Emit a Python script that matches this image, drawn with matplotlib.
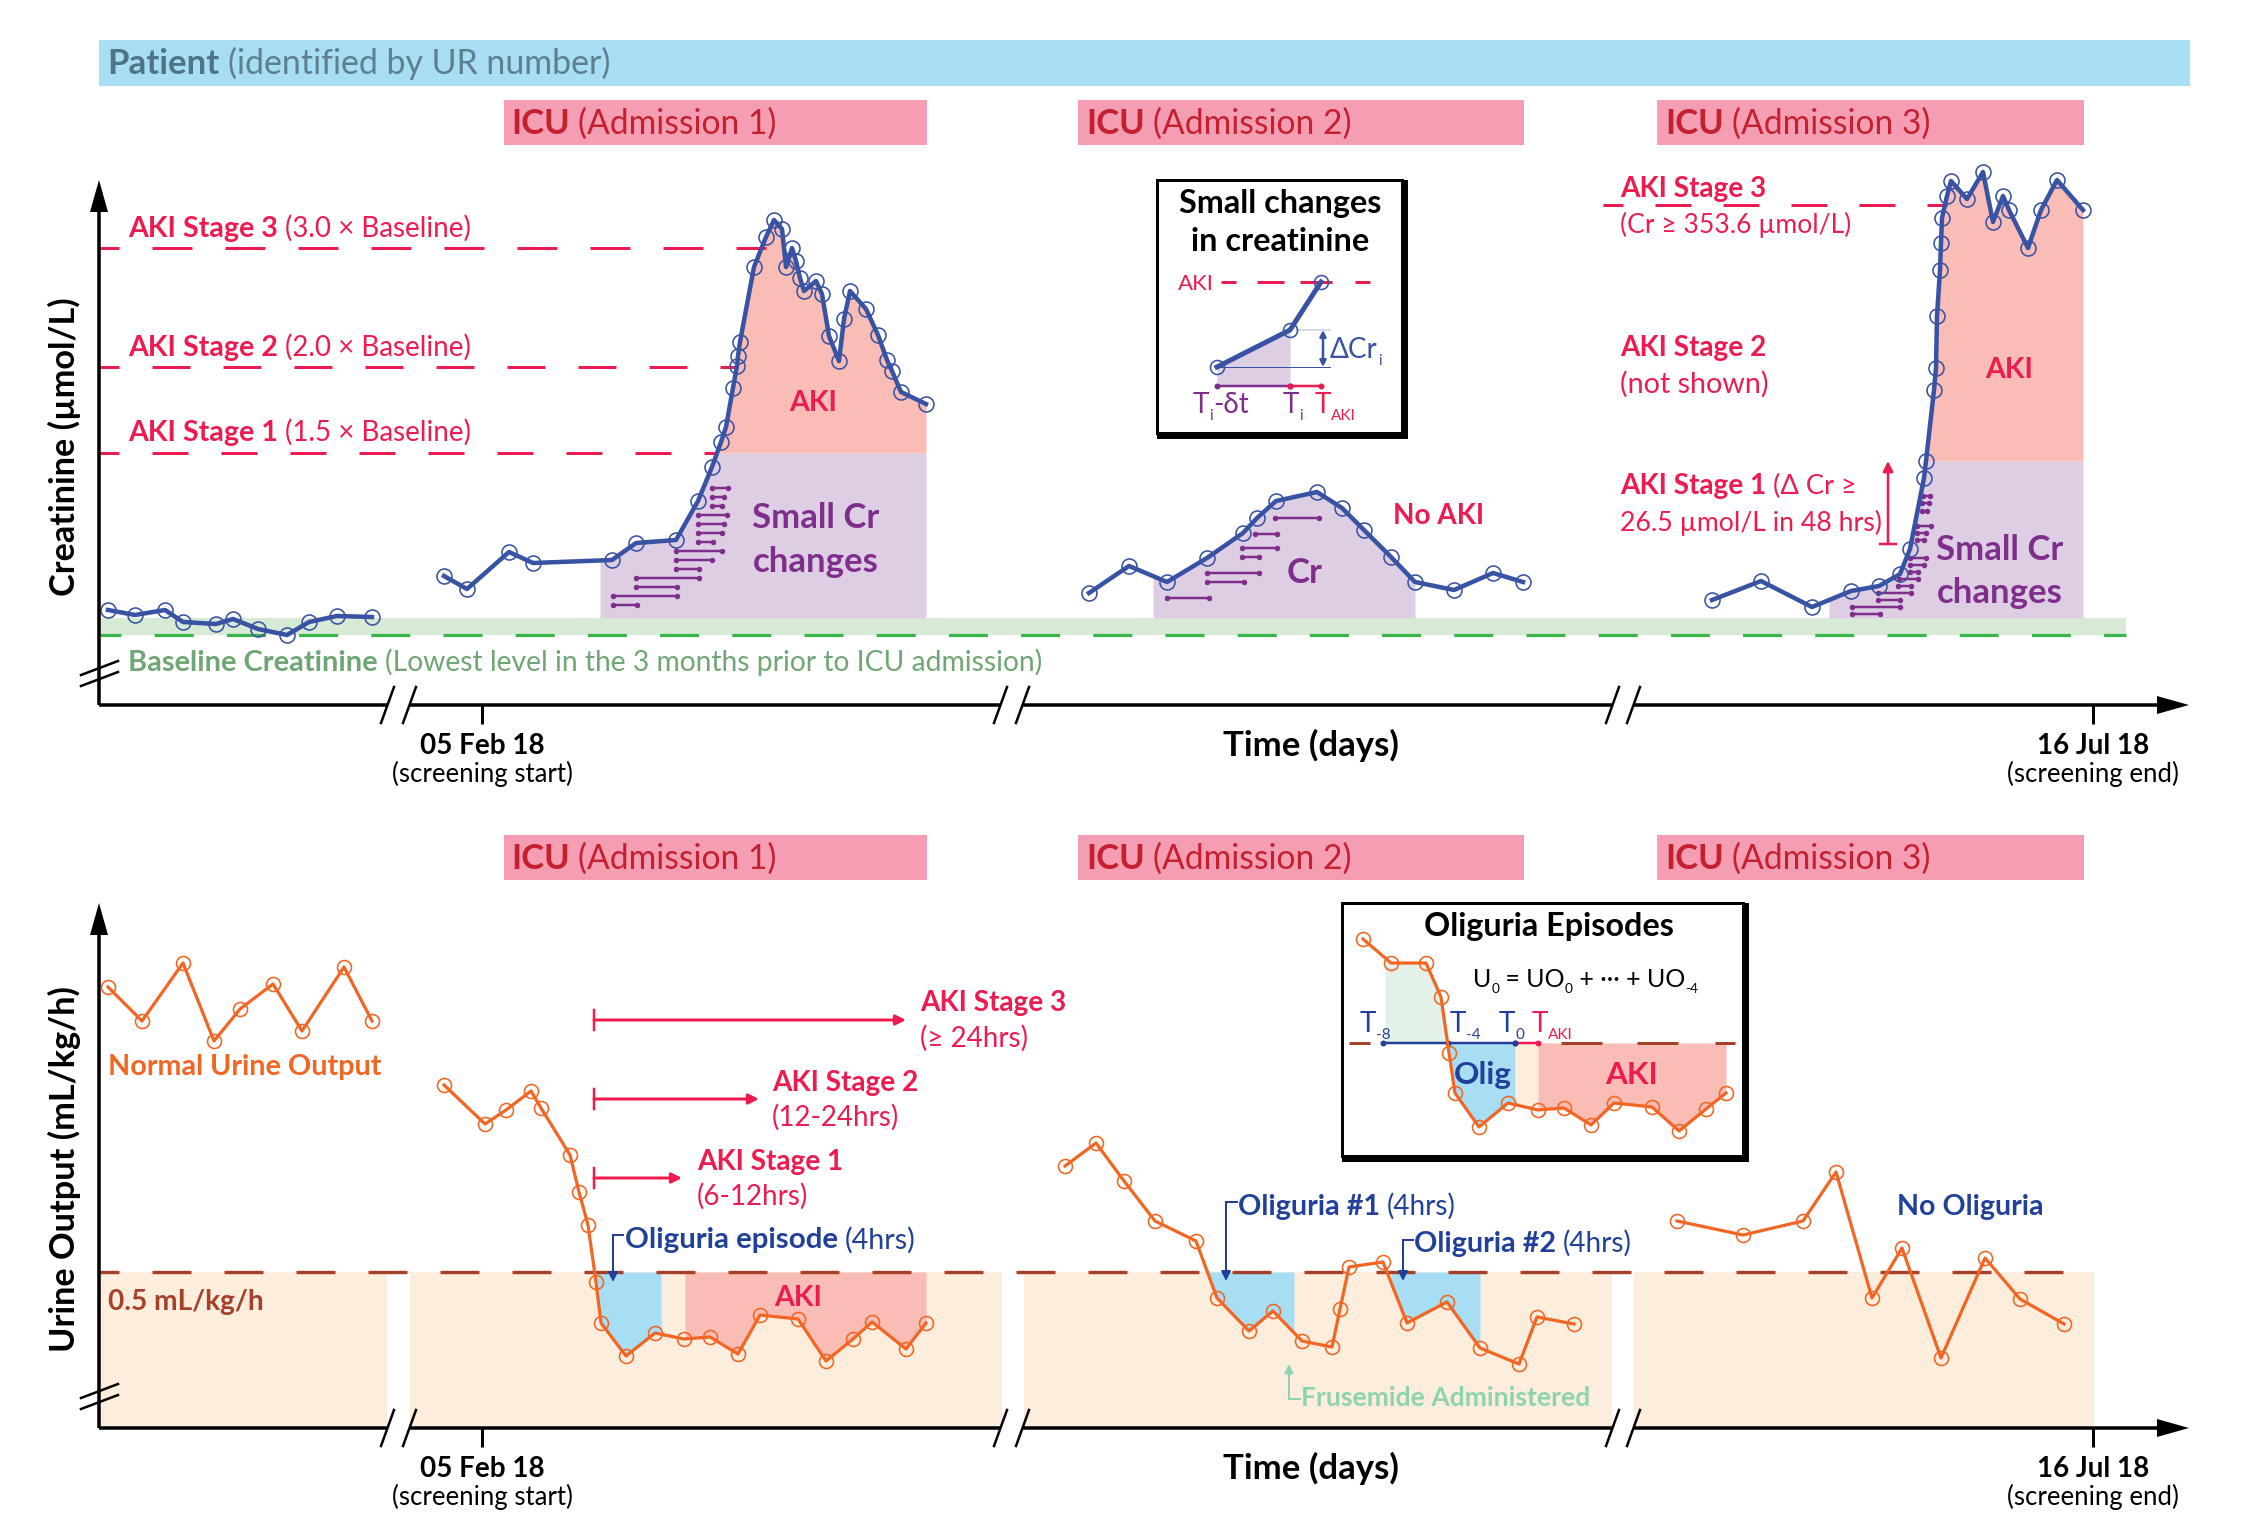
import numpy as np
import matplotlib
matplotlib.use('Agg')
import matplotlib.pyplot as plt
from matplotlib.patches import Rectangle

plt.rcParams['font.family'] = ['Lato', 'DejaVu Sans']
plt.rcParams['lines.scale_dashes'] = False

# schematic units: time and heights are measured in picture pixels above each x axis
cr_time_0 = [108, 135, 165, 183, 216, 233, 258, 287, 309, 337, 372]
cr_val_0 = [95, 90, 95, 83, 81, 86, 76, 70, 83, 89, 88]
cr_time_1 = [444, 467, 509, 533, 612, 636, 676, 698, 712, 721, 726, 733, 737, 738, 740, 754, 766, 774, 782, 786,
             792, 796, 800, 804, 816, 822, 829, 839, 844, 850, 866, 878, 887, 892, 901, 926]
cr_val_1 = [129, 116, 153, 142, 145, 162, 165, 204, 238, 263, 278, 317, 339, 349, 363, 438, 468, 485, 476, 438,
            457, 444, 427, 414, 424, 411, 369, 344, 386, 414, 396, 370, 345, 334, 313, 301]
cr_time_2 = [1089, 1129, 1167, 1207, 1243, 1257, 1276, 1317, 1342, 1364, 1391, 1415, 1454, 1493, 1523]
cr_val_2 = [112, 139, 123, 147, 172, 187, 204, 213, 197, 175, 148, 123, 115, 132, 123]
cr_time_3 = [1712, 1761, 1812, 1851, 1879, 1900, 1910, 1924, 1926, 1934, 1936, 1937, 1940, 1941, 1942, 1947, 1951,
             1967, 1983, 1993, 2003, 2009, 2028, 2041, 2057, 2083]
cr_val_3 = [105, 124, 98, 114, 119, 131, 156, 227, 244, 315, 337, 389, 435, 462, 487, 509, 524,
            506, 533, 483, 509, 495, 457, 495, 525, 495]

uo_time_0 = [108, 142, 183, 214, 240, 273, 302, 344, 372]
uo_val_0 = [441, 407, 465, 387, 419, 444, 397, 461, 407]
uo_time_1 = [444, 485, 506, 531, 541, 570, 579, 588, 596, 601, 626, 655, 684, 710, 738, 760, 798, 826, 853, 872, 906, 926]
uo_val_1 = [343, 304, 318, 337, 320, 273, 236, 203, 146, 105, 72, 95, 89, 91, 74, 113, 109, 67, 89, 106, 79, 105]
uo_time_2 = [1065, 1096, 1124, 1155, 1196, 1217, 1249, 1273, 1302, 1332, 1340, 1349, 1383, 1407, 1447, 1480, 1519, 1537, 1574]
uo_val_2 = [262, 285, 247, 207, 187, 130, 97, 117, 87, 81, 119, 161, 166, 105, 126, 80, 64, 111, 104]
uo_time_3 = [1677, 1743, 1803, 1836, 1872, 1902, 1941, 1985, 2020, 2064]
uo_val_3 = [207, 193, 207, 256, 130, 180, 70, 170, 129, 104]

baseline_cr = 70
band_top_cr = 87
stage1_cr = 252
stage2_cr = 338
stage3_cr = 457
stage1_cr_adm3 = 244
stage3_cr_adm3 = 500
oliguria_uo = 156

# small creatinine changes: start, end, level
small_1_start = [712, 712, 712, 698, 698, 698, 698, 676, 676, 676, 636, 636, 613, 613]
small_1_end = [728, 724, 722, 727, 724, 722, 713, 722, 712, 699, 699, 677, 677, 637]
small_1_level = [217, 208, 199, 190, 181, 172, 163, 154, 145, 136, 127, 118, 109, 100]
small_2_start = [1275, 1255, 1242, 1242, 1207, 1207, 1167]
small_2_end = [1319, 1277, 1277, 1259, 1259, 1244, 1209]
small_2_level = [187, 171, 157, 148, 132, 123, 107]
small_3_start = [1923, 1922, 1922, 1917, 1917, 1917, 1910, 1910, 1910, 1899, 1898, 1878, 1878, 1852, 1852]
small_3_end = [1930, 1929, 1927, 1931, 1926, 1924, 1926, 1924, 1918, 1918, 1911, 1911, 1900, 1900, 1880]
small_3_level = [209, 202, 194, 179, 172, 165, 147, 140, 133, 126, 119, 112, 105, 98, 91]

inset_cr_x = [1217, 1290, 1321]
inset_cr_y = [367, 330, 282]
inset_uo_x = [1363, 1391, 1426, 1441, 1449, 1455, 1479, 1508, 1538, 1564, 1591, 1614, 1652, 1679, 1706, 1726]
inset_uo_y = [939, 963, 963, 997, 1053, 1093, 1127, 1103, 1110, 1108, 1125, 1103, 1107, 1131, 1109, 1093]

icu_labels = ['Admission 1', 'Admission 2', 'Admission 3']

RED = '#ED1C50'
BLUE = '#3953A4'
NAVY = '#21409A'
ORANGE = '#F26522'
PURPLE = '#7F2F8B'
L_PURPLE = '#DDCEE3'
SALMON = '#F9BDB6'
L_GREEN = '#D7EAD5'
L_ORANGE = '#FDEDDC'
SKY = '#A8DEF3'
BROWN = '#A5402A'
PX = 0.72  # pixels to points at dpi 100

fig = plt.figure(figsize=(22.5, 15.36), dpi=100)
renderer = fig.canvas.get_renderer()


def panel(axis_y):
    ax = fig.add_axes([0, 0, 1, 1])
    ax.set_xlim(0, 2250)
    ax.set_ylim(axis_y - 1536, axis_y)
    ax.axis('off')
    return ax


ax_cr = panel(705)
ax_uo = panel(1428)
page = fig.add_axes([0, 0, 1, 1], zorder=5)
page.set_xlim(0, 2250)
page.set_ylim(1536, 0)
page.axis('off')


def rich(x, y, parts, size, color, ha='left', z=10):
    # parts: strings or (string, weight, colour, subscript)
    base = y + 0.36 * size / PX
    items = []
    total = 0
    for p in parts:
        s, weight, col, sub = (p + ('normal', color, False)[len(p) - 1:]) if isinstance(p, tuple) else (p, 'normal', color, False)
        fs = size * 0.55 if sub else size * (1.03 if weight == 'bold' else 1)
        t = page.text(0, 0, s.rstrip(), fontsize=fs, fontweight=weight, color=col, va='baseline', zorder=z)
        w = t.get_window_extent(renderer).width
        if s.endswith(' '):
            w += 0.24 * fs / PX
        items.append((t, total, sub, fs))
        total += w
    x0 = x - total / 2 if ha == 'center' else x
    for t, off, sub, fs in items:
        t.set_position((x0 + off, base + (0.24 * size / PX if sub else 0)))


def dash_line(ax, x0, x1, y, color, on, off, offset=0, lw=3):
    ax.plot([x0, x1], [y, y], color=color, lw=lw * PX, solid_capstyle='butt', dash_capstyle='butt',
            linestyle=(offset * PX, (on * PX, off * PX)), zorder=3)


def series(ax, xs, ys, color, lw, ms=15, z=6):
    ax.plot(xs, ys, color=color, lw=lw * PX, zorder=z, solid_joinstyle='round')
    ax.plot(xs, ys, ls='none', marker='o', mfc='none', mec=color, mew=1.6 * PX, ms=ms * PX, zorder=z)


def fill_under(ax, xs, ys, x0, x1, low, high, color):
    grid = np.linspace(x0, x1, 800)
    curve = np.interp(grid, xs, ys)
    ax.fill_between(grid, low, np.clip(curve, low, high), color=color, lw=0, zorder=1)


def fill_over(ax, xs, ys, x0, x1, level, color):
    grid = np.linspace(x0, x1, 800)
    curve = np.interp(grid, xs, ys)
    ax.fill_between(grid, np.minimum(curve, level), level, color=color, lw=0, zorder=2)


def small_bars(ax, starts, ends, levels):
    for a, b, h in zip(starts, ends, levels):
        ax.plot([a, b], [h, h], color=PURPLE, lw=2.5 * PX, marker='o', ms=5.5 * PX, mew=0, zorder=4)


def draw_axes(ax):
    black = dict(color='black', lw=3.5 * PX, solid_capstyle='butt', zorder=7)
    ax.plot([99, 99], [0, 495], **black)
    ax.fill([90, 108, 99], [493, 493, 525], color='black', lw=0, zorder=7)
    for a, b in [(99, 388), (409, 1001), (1023, 1613), (1633, 2160)]:
        ax.plot([a, b], [0, 0], **black)
    ax.fill([2157, 2157, 2189], [9, -9, 0], color='black', lw=0, zorder=7)
    thin = dict(color='black', lw=2.5 * PX, zorder=7)
    for a in [381, 403, 994, 1016, 1606, 1627]:
        ax.plot([a, a + 13], [-18, 18], **thin)
    for h in [19, 30]:
        ax.plot([81, 118], [h, h + 14], **thin)
    for t in [482, 2093]:
        ax.plot([t, t], [0, -19], color='black', lw=3 * PX, solid_capstyle='butt', zorder=7)


# ---- creatinine panel
ax_cr.fill_between([99, 2126], baseline_cr, band_top_cr, color=L_GREEN, lw=0, zorder=1)
dash_line(ax_cr, 99, 2126, baseline_cr, '#39B54A', 39, 33.2, offset=17, lw=3.2)
dash_line(ax_cr, 99, 766, stage3_cr, RED, 40, 33, offset=20)
dash_line(ax_cr, 99, 737, stage2_cr, RED, 38, 33, offset=18)
dash_line(ax_cr, 99, 716, stage1_cr, RED, 36, 33, offset=16)
dash_line(ax_cr, 1603, 1947, stage3_cr_adm3, RED, 36, 32, offset=16)

fill_under(ax_cr, cr_time_1, cr_val_1, 600, 926, band_top_cr, stage1_cr, L_PURPLE)
fill_under(ax_cr, cr_time_1, cr_val_1, 600, 926, stage1_cr, 2000, SALMON)
fill_under(ax_cr, cr_time_2, cr_val_2, 1153, 1415, band_top_cr, 2000, L_PURPLE)
fill_under(ax_cr, cr_time_3, cr_val_3, 1829, 2083, band_top_cr, stage1_cr_adm3, L_PURPLE)
fill_under(ax_cr, cr_time_3, cr_val_3, 1829, 2083, stage1_cr_adm3, 2000, SALMON)

small_bars(ax_cr, small_1_start, small_1_end, small_1_level)
small_bars(ax_cr, small_2_start, small_2_end, small_2_level)
small_bars(ax_cr, small_3_start, small_3_end, small_3_level)

for xs, ys in [(cr_time_0, cr_val_0), (cr_time_1, cr_val_1), (cr_time_2, cr_val_2), (cr_time_3, cr_val_3)]:
    series(ax_cr, xs, ys, BLUE, 4.5)
draw_axes(ax_cr)

# ---- urine panel
for a, b in [(99, 387), (410, 1002), (1024, 1612), (1634, 2094)]:
    ax_uo.fill_between([a, b], 0, oliguria_uo, color=L_ORANGE, lw=0, zorder=1)
dash_line(ax_uo, 99, 2094, oliguria_uo, BROWN, 39, 33, offset=19, lw=3.4)
fill_over(ax_uo, uo_time_1, uo_val_1, 596, 661, oliguria_uo, SKY)
fill_over(ax_uo, uo_time_1, uo_val_1, 685, 926, oliguria_uo, SALMON)
fill_over(ax_uo, uo_time_2, uo_val_2, 1209, 1294, oliguria_uo, SKY)
fill_over(ax_uo, uo_time_2, uo_val_2, 1391, 1480, oliguria_uo, SKY)
for xs, ys in [(uo_time_0, uo_val_0), (uo_time_1, uo_val_1), (uo_time_2, uo_val_2), (uo_time_3, uo_val_3)]:
    series(ax_uo, xs, ys, ORANGE, 3.2, ms=14)
draw_axes(ax_uo)

# ---- header bars
page.add_patch(Rectangle((99, 40), 2091, 46, color=SKY, lw=0))
rich(107, 62, [('Patient ', 'bold', '#4F7485'), '(identified by UR number)'], 24.4, '#5E7F8C')
for top in [100, 835]:
    for (a, b, tx), name in zip([(504, 927, 511), (1078, 1524, 1086), (1657, 2084, 1665)], icu_labels):
        page.add_patch(Rectangle((a, top), b - a, 45, color='#F59DB3', lw=0))
        rich(tx, top + 22, [('ICU ', 'bold'), f'({name})'], 24.2, '#C4202F')

# ---- axis text
for dy in [0, 723]:
    rich(482, 744 + dy, [('05 Feb 18', 'bold')], 19.4, 'black', ha='center')
    rich(482, 773 + dy, ['(screening start)'], 18.5, 'black', ha='center')
    rich(1311, 744 + dy, [('Time (days)', 'bold')], 24.3, 'black', ha='center')
    rich(2093, 744 + dy, [('16 Jul 18', 'bold')], 19.4, 'black', ha='center')
    rich(2093, 773 + dy, ['(screening end)'], 18.5, 'black', ha='center')
page.text(64, 447, 'Creatinine (µmol/L)', rotation=90, fontsize=24.7, fontweight='bold', ha='center', va='center')
page.text(64, 1169, 'Urine Output (mL/kg/h)', rotation=90, fontsize=24.7, fontweight='bold', ha='center', va='center')

# ---- creatinine labels
rich(128, 227, [('AKI Stage 3 ', 'bold'), '(3.0 × Baseline)'], 20, RED)
rich(128, 346, [('AKI Stage 2 ', 'bold'), '(2.0 × Baseline)'], 20, RED)
rich(128, 431, [('AKI Stage 1 ', 'bold'), '(1.5 × Baseline)'], 20, RED)
rich(128, 661, [('Baseline Creatinine ', 'bold'), '(Lowest level in the 3 months prior to ICU admission)'], 20.3, '#6FA673')
rich(813, 401, [('AKI', 'bold')], 20, RED, ha='center')
rich(816, 516, [('Small Cr', 'bold')], 24.3, PURPLE, ha='center')
rich(816, 560, [('changes', 'bold')], 24.3, PURPLE, ha='center')
rich(1305, 571, [('Cr', 'bold')], 24.3, PURPLE, ha='center')
rich(1393, 514, [('No AKI', 'bold')], 19.6, RED)
rich(1620, 187, [('AKI Stage 3', 'bold')], 19.6, RED)
rich(1620, 223, ['(Cr ≥ 353.6 µmol/L)'], 19.1, RED)
rich(1620, 346, [('AKI Stage 2', 'bold')], 19.6, RED)
rich(1620, 382, ['(not shown)'], 20.6, RED)
rich(1620, 484, [('AKI Stage 1 ', 'bold'), '(Δ Cr ≥'], 19.6, RED)
rich(1620, 521, ['26.5 µmol/L in 48 hrs)'], 19.2, RED)
rich(2009, 368, [('AKI', 'bold')], 20, RED, ha='center')
rich(2000, 548, [('Small Cr', 'bold')], 24.3, PURPLE, ha='center')
rich(2000, 591, [('changes', 'bold')], 24.3, PURPLE, ha='center')
page.plot([1880, 1896], [544, 544], color=RED, lw=2.5 * PX)
page.annotate('', xy=(1888, 461), xytext=(1888, 544),
              arrowprops=dict(arrowstyle='-|>', color=RED, lw=2.5 * PX, mutation_scale=15, shrinkA=0, shrinkB=0))

# ---- urine labels
rich(108, 1065, [('Normal Urine Output', 'bold')], 20.1, ORANGE)
rich(108, 1300, [('0.5 mL/kg/h', 'bold')], 19.6, BROWN)
rich(798, 1296, [('AKI', 'bold')], 20, RED, ha='center')
stage_rows = [(1020, 906, 920, 1001, 1037, 'AKI Stage 3', '(≥ 24hrs)'),
              (1099, 759, 772, 1081, 1116, 'AKI Stage 2', '(12-24hrs)'),
              (1178, 682, 697, 1160, 1195, 'AKI Stage 1', '(6-12hrs)')]
for y, tip, tx, y1, y2, name, hrs in stage_rows:
    page.plot([594, 594], [y - 10, y + 10], color=RED, lw=2.5 * PX)
    page.annotate('', xy=(tip, y), xytext=(594, y),
                  arrowprops=dict(arrowstyle='-|>', color=RED, lw=3 * PX, mutation_scale=15, shrinkA=0, shrinkB=0))
    rich(tx, y1, [(name, 'bold')], 19.6, RED)
    rich(tx, y2, [hrs], 20, RED)

hooks = [(613, 1235, 1282, 623), (1226, 1202, 1281, 1237), (1403, 1240, 1281, 1413)]
for x, y0, y1, end in hooks:
    page.plot([end, x], [y0, y0], color=NAVY, lw=2 * PX)
    page.annotate('', xy=(x, y1), xytext=(x, y0),
                  arrowprops=dict(arrowstyle='-|>', color=NAVY, lw=2 * PX, mutation_scale=14, shrinkA=0, shrinkB=0))
rich(625, 1238, [('Oliguria episode ', 'bold'), '(4hrs)'], 20.6, NAVY)
rich(1238, 1205, [('Oliguria #1 ', 'bold'), '(4hrs)'], 20.1, NAVY)
rich(1414, 1242, [('Oliguria #2 ', 'bold'), '(4hrs)'], 20.1, NAVY)
rich(1897, 1205, [('No Oliguria', 'bold')], 20, NAVY)
page.plot([1300, 1289], [1399, 1399], color='#8FD3AE', lw=2 * PX)
page.annotate('', xy=(1289, 1364), xytext=(1289, 1399),
              arrowprops=dict(arrowstyle='-|>', color='#8FD3AE', lw=2 * PX, mutation_scale=13, shrinkA=0, shrinkB=0))
rich(1301, 1397, [('Frusemide Administered', 'bold')], 18.5, '#8FD3AE')


def box(x0, y0, x1, y1, shadow):
    page.add_patch(Rectangle((x0, y0), x1 - x0 + shadow, y1 - y0 + shadow, color='black', lw=0, zorder=8))
    page.add_patch(Rectangle((x0, y0), x1 - x0, y1 - y0, facecolor='white', edgecolor='black', lw=3 * PX, zorder=8.5))


# ---- small changes inset
box(1157, 180, 1402, 433, 6)
rich(1280, 202, [('Small changes', 'bold')], 22.6, 'black', ha='center')
rich(1280, 240, [('in creatinine', 'bold')], 22.6, 'black', ha='center')
rich(1178, 282, ['AKI'], 16, RED)
for a, b in [(1221, 1236), (1257, 1284), (1300, 1332), (1355, 1370)]:
    page.plot([a, b], [282, 282], color=RED, lw=3 * PX, solid_capstyle='butt', zorder=9)
page.fill_between(inset_cr_x[:2], inset_cr_y[:2], 386, color=L_PURPLE, lw=0, zorder=9)
page.plot([1217, 1330], [367, 367], color=BLUE, lw=1 * PX, zorder=9)
page.plot([1297, 1330], [330, 330], color='#C5CDE6', lw=1.5 * PX, zorder=9)
page.annotate('', xy=(1323, 367), xytext=(1323, 330), zorder=9,
              arrowprops=dict(arrowstyle='<|-|>', color=BLUE, lw=2.5 * PX, mutation_scale=9, shrinkA=0, shrinkB=0))
page.plot([1217, 1290], [386, 386], color=PURPLE, lw=2.5 * PX, marker='o', ms=6 * PX, mew=0, zorder=9)
page.plot([1290, 1321], [386, 386], color=RED, lw=2.5 * PX, marker='o', ms=6 * PX, mew=0, zorder=9)
page.plot(inset_cr_x, inset_cr_y, color=BLUE, lw=5 * PX, zorder=9.5)
page.plot(inset_cr_x, inset_cr_y, ls='none', marker='o', mfc='none', mec=BLUE, mew=1.6 * PX, ms=14 * PX, zorder=9.5)
rich(1330, 348, ['ΔCr', ('i', 'normal', BLUE, True)], 20, BLUE)
rich(1193, 403, ['T', ('i', 'normal', PURPLE, True), '-δt'], 20, PURPLE)
rich(1283, 403, ['T', ('i', 'normal', PURPLE, True)], 20, PURPLE)
rich(1315, 403, ['T', ('AKI', 'normal', RED, True)], 20, RED)

# ---- oliguria inset
box(1342, 903, 1743, 1156, 6)
rich(1549, 925, [('Oliguria Episodes', 'bold')], 22.6, 'black', ha='center')
rich(1473, 978, ['U', ('0', 'normal', 'black', True), ' = UO', ('0', 'normal', 'black', True), ' + ··· + UO',
                 ('-4', 'normal', 'black', True)], 18, 'black')
level = 1043
grid = np.linspace(1385, 1726, 1200)
curve = np.interp(grid, inset_uo_x, inset_uo_y)
for a, b, col in [(1385, 1449, '#E3F1E8'), (1448, 1515, SKY), (1515, 1538, L_ORANGE), (1538, 1726, SALMON)]:
    keep = (grid >= a) & (grid <= b)
    if col == '#E3F1E8':
        page.fill_between(grid[keep], np.minimum(curve[keep], level), level, color=col, lw=0, zorder=9)
    else:
        page.fill_between(grid[keep], level, np.maximum(curve[keep], level), color=col, lw=0, zorder=9)
for a, b in [(1349, 1370), (1561, 1602), (1637, 1678), (1715, 1735)]:
    page.plot([a, b], [level, level], color=BROWN, lw=3 * PX, solid_capstyle='butt', zorder=9)
page.plot([1383, 1448, 1515], [level] * 3, color=NAVY, lw=2.5 * PX, marker='o', ms=6 * PX, mew=0, zorder=9.2)
page.plot([1515, 1538], [level] * 2, color=RED, lw=2.5 * PX, marker='o', ms=6 * PX, mew=0, zorder=9.1)
page.plot(inset_uo_x, inset_uo_y, color=ORANGE, lw=3.2 * PX, zorder=9.5)
page.plot(inset_uo_x, inset_uo_y, ls='none', marker='o', mfc='none', mec=ORANGE, mew=1.6 * PX, ms=14 * PX, zorder=9.5)
rich(1360, 1022, ['T', ('-8', 'normal', NAVY, True)], 20, NAVY)
rich(1450, 1022, ['T', ('-4', 'normal', NAVY, True)], 20, NAVY)
rich(1499, 1022, ['T', ('0', 'normal', NAVY, True)], 20, NAVY)
rich(1532, 1022, ['T', ('AKI', 'normal', RED, True)], 20, RED)
rich(1483, 1073, [('Olig', 'bold')], 22, NAVY, ha='center')
rich(1632, 1073, [('AKI', 'bold')], 22, RED, ha='center')

fig.savefig('out.png', dpi=100)
